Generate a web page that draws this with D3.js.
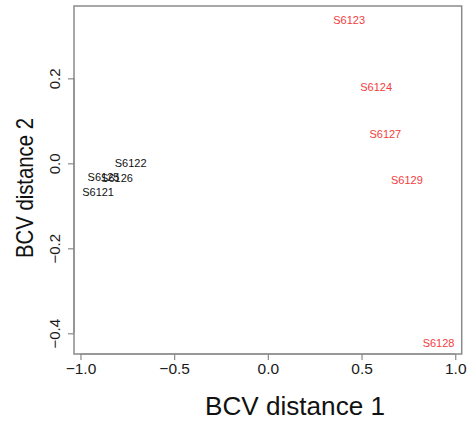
<!DOCTYPE html>
<html><head><meta charset="utf-8">
<script src="https://cdn.jsdelivr.net/npm/d3@7"></script>
<style>body{margin:0;background:#fff}</style>
</head><body>
<script>
const sampleLabels = ["S6121","S6122","S6125","S6126","S6123","S6124","S6127","S6129","S6128"];
const dim1 = [-0.906,-0.732,-0.877,-0.805,0.434,0.578,0.627,0.742,0.911];
const dim2 = [-0.067,0.000,-0.033,-0.035,0.337,0.180,0.069,-0.039,-0.422];
const groups = ["A","A","A","A","B","B","B","B","B"];
const xTicks = [-1.0,-0.5,0.0,0.5,1.0];
const yTicks = [-0.4,-0.2,0.0,0.2];
const groupColors = {A:"#111111", B:"#f23d3d"};

const W=471,H=428;
const svg=d3.select("body").append("svg").attr("width",W).attr("height",H)
  .style("font-family","'Liberation Sans',Arial,sans-serif");
const box={l:74,r:461.7,t:6,b:354};
const x=d3.scaleLinear().domain([-1.0345,1.0345]).range([box.l,box.r]);
const y=d3.scaleLinear().domain([-0.4487,0.3702]).range([box.b,box.t]);

svg.append("rect").attr("x",box.l).attr("y",box.t).attr("width",box.r-box.l).attr("height",box.b-box.t)
  .attr("fill","none").attr("stroke","#8a8a8a").attr("stroke-width",1.5);

const xa=svg.append("g").attr("transform",`translate(0,${box.b})`)
  .call(d3.axisBottom(x).tickValues(xTicks).tickFormat(d3.format(".1f")).tickSize(6).tickPadding(6));
xa.select(".domain").attr("stroke","#8a8a8a").attr("stroke-width",1.2).attr("d",`M${x(-1)},0H${x(1)}`);
xa.selectAll(".tick line").attr("stroke","#8a8a8a").attr("stroke-width",1.2);
xa.selectAll(".tick text").attr("fill","#1a1a1a").style("font-size","15.5px").attr("y",9)
  .text(d=>d3.format(".1f")(d).replace("-","\u2212"));

const ya=svg.append("g").attr("transform",`translate(${box.l},0)`)
  .call(d3.axisLeft(y).tickValues(yTicks).tickFormat(d3.format(".1f")).tickSize(6));
ya.select(".domain").attr("stroke","#8a8a8a").attr("stroke-width",1.2).attr("d",`M0,${y(-0.4)}V${y(0.2)}`);
ya.selectAll(".tick line").attr("stroke","#8a8a8a").attr("stroke-width",1.2);
ya.selectAll(".tick text").attr("fill","#1a1a1a").style("font-size","15px")
  .attr("x",0).attr("dy",0).attr("text-anchor","middle")
  .attr("transform","translate(-14,0) rotate(-90)")
  .text(d=>d3.format(".1f")(d).replace("-","\u2212"));

svg.append("text").attr("x",295).attr("y",415).attr("text-anchor","middle")
  .style("font-size","25px").attr("fill","#111")
  .attr("textLength",180).attr("lengthAdjust","spacingAndGlyphs").text("BCV distance 1");
svg.append("text").attr("transform","translate(33,188) rotate(-90)").attr("text-anchor","middle")
  .style("font-size","24px").attr("fill","#111")
  .attr("textLength",140).attr("lengthAdjust","spacingAndGlyphs").text("BCV distance 2");

svg.append("g").selectAll("text").data(sampleLabels).join("text")
  .attr("x",(d,i)=>x(dim1[i])).attr("y",(d,i)=>y(dim2[i])).attr("dy","0.35em")
  .attr("text-anchor","middle").style("font-size","11px")
  .attr("fill",(d,i)=>groupColors[groups[i]]).text(d=>d);
</script>
</body></html>
